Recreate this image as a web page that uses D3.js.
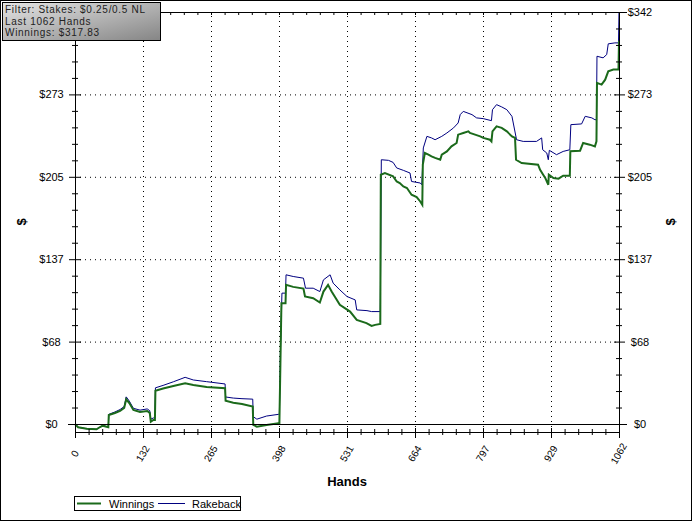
<!DOCTYPE html>
<html><head><meta charset="utf-8">
<script src="https://cdn.jsdelivr.net/npm/d3@7/dist/d3.min.js"></script>
<style>
html,body{margin:0;padding:0;background:#fff;}
svg{display:block;font-family:"Liberation Sans",Arial,sans-serif;}
</style></head>
<body><svg id="chart" width="693" height="522"></svg>
<script>
// ---------- data ----------
const winHands = [0,6,23,42,49,54,65,66,78,88,96,100,106,114,127,141,146,148,153,156,157,172,192,215,231,257,293,294,309,326,347,348,355,374,397,399,401,403,411,412,426,446,449,465,478,485,494,501,517,537,550,569,579,586,596,597,605,621,628,634,641,648,657,667,674,678,679,683,690,696,703,713,716,726,735,745,748,758,768,771,781,791,797,810,813,815,823,833,843,853,859,861,872,904,908,914,918,924,925,934,944,953,966,967,986,992,1005,1015,1018,1019,1028,1035,1041,1051,1061,1062];
const winnings = [0,-2.7,-4.0,-4.4,-2.5,-1.4,-2.7,7.5,9.1,10.8,13.3,20.5,17.4,11.6,10.0,10.8,9.1,1.9,3.3,3.3,27.6,29.5,31.5,33.8,32.4,30.7,29.6,19.3,17.7,16.6,14.4,-0.8,-2.2,-0.8,0.6,0.6,50,100.2,100.2,115.4,113.7,112.3,105.7,104.3,100.7,109.8,115.4,109.8,98.8,93.2,86.3,83.6,81.3,82.2,83.0,206.7,208.1,205.3,201.1,199.8,197,195.7,190.1,188.2,184.5,181.8,215,224.7,223.3,221.9,220.6,219.1,223.3,226,230.2,233,239.9,241.3,242.6,241.3,239.9,238.5,237.2,235.7,234.3,242.6,246.8,245.5,242.6,238.5,237.2,219.1,216.4,215,210.8,206.7,204,198.4,206.7,204,203.4,205.9,205.9,226.2,226.6,233,231.6,230.2,234.3,282.8,281.4,285.5,292.4,293.9,293.9,317.83];

const rbHands = [0,6,23,42,49,54,65,66,78,88,96,100,106,114,127,141,146,148,153,156,157,172,192,215,231,257,293,294,309,326,347,348,355,374,397,399,401,404,411,412,426,446,450,465,478,485,498,504,517,531,547,550,570,579,596,598,612,621,628,641,654,657,674,677,680,687,696,703,716,726,739,748,752,758,775,784,797,813,815,823,833,843,853,862,875,901,911,913,921,924,926,940,953,966,968,989,996,1009,1015,1018,1019,1031,1038,1041,1054,1061,1062];
const rakeback = [0,-2.7,-4.0,-4.4,-2.5,-1.2,-2.5,8,10,12,14.5,22.5,19,13,11.5,12.5,11,4,5,5,30,32,35,38.7,36.5,35.1,33.2,22.4,21.5,21,20.6,6.1,4,6.6,8,8,60,108.5,108.5,123.7,122.3,120.9,112.6,112.6,109.8,119.5,123.7,116.8,111.2,105.7,102.9,94.6,94,93.2,93.2,219.1,218.6,216.9,212.3,210.3,208.1,201.1,199.8,198.4,228.9,238.5,237.2,235.7,238.5,241.3,245.5,249.6,256.5,259.2,256.5,253.8,253.2,251.5,260.6,264.8,262.9,260.6,255.1,235.7,234.3,234.3,237.2,227.4,224.7,219.1,226.9,223.3,226,227.4,248.2,248.8,255.1,253.8,252.3,252.3,304.9,303.6,306.3,315.2,316,316,341.6];

const totalHands = 1062;
const yMax = 341.6;
const xTickLabels = ["0","132","265","398","531","664","797","929","1062"];
const yTickLabels = ["$0","$68","$137","$205","$273","$342"];
const infoLines = ["Filter: Stakes: $0.25/0.5 NL","Last 1062 Hands","Winnings: $317.83"];
const seriesNames = ["Winnings","Rakeback"];
const seriesColors = ["#1b6a1b","#000080"];

// ---------- layout ----------
const svg = d3.select("#chart");
const L = 75, R = 619, T = 12, Z = 424, B = 432;
const x = d3.scaleLinear().domain([0,totalHands]).range([L,R]);
const y = d3.scaleLinear().domain([0,yMax]).range([Z,T]);

const xMajor = d3.range(9).map(i => i*totalHands/8);
const xMinor = d3.range(41).map(i => i*totalHands/40).filter((d,i)=> i%5!==0);
const yMajor = d3.range(6).map(i => i*yMax/5);
const yMinor = d3.range(26).map(i => i*yMax/25).filter((d,i)=> i%5!==0);

// outer frame
svg.append("rect").attr("x",0.5).attr("y",0.5).attr("width",691).attr("height",520)
  .attr("fill","#fff").attr("stroke","#000");

// gridlines
const grid = svg.append("g");
grid.append("g").attr("transform",`translate(0,${B})`)
  .call(d3.axisBottom(x).tickValues(xMajor.slice(1,-1)).tickSize(-(B-T)).tickFormat(""))
  .call(g=>g.select(".domain").remove())
  .selectAll("line").attr("stroke","#000").attr("stroke-dasharray","1,4");
grid.append("g").attr("transform",`translate(${L},0)`)
  .call(d3.axisLeft(y).tickValues(yMajor.slice(1,-1)).tickSize(-(R-L)).tickFormat(""))
  .call(g=>g.select(".domain").remove())
  .selectAll("line").attr("stroke","#000").attr("stroke-dasharray","1,4");

// lines
const lineGen = d3.line().x(d=>x(d[0])).y(d=>y(d[1]));
const rbData = rbHands.map((h,i)=>[h,rakeback[i]]);
const winData = winHands.map((h,i)=>[h,winnings[i]]);
svg.append("path").datum(rbData).attr("d",lineGen).attr("fill","none")
  .attr("stroke",seriesColors[1]).attr("stroke-width",1);
svg.append("path").datum(winData).attr("d",lineGen).attr("fill","none")
  .attr("stroke",seriesColors[0]).attr("stroke-width",2);

// axes helper: ticks that cross the axis line
function crossTicks(g, lo, hi, horiz){
  g.selectAll(".tick line").each(function(){
    const s = d3.select(this);
    if(horiz){ s.attr("y1",lo).attr("y2",hi); } else { s.attr("x1",lo).attr("x2",hi); }
  }).attr("stroke","#000");
  g.select(".domain").remove();
}
// left axis (top label is hidden under the info box in the reference)
svg.append("g").attr("transform",`translate(${L},0)`)
  .call(d3.axisLeft(y).tickValues(yMinor).tickFormat(""))
  .call(g=>crossTicks(g,-3,3,false));
svg.append("g").attr("transform",`translate(${L},0)`)
  .call(d3.axisLeft(y).tickValues(yMajor).tickFormat(""))
  .call(g=>crossTicks(g,-6,6,false));
svg.append("g").attr("transform",`translate(${L},0)`)
  .call(d3.axisLeft(y).tickValues(yMajor.slice(0,-1)).tickSize(0).tickPadding(0).tickFormat((d,i)=>yTickLabels[i]))
  .call(g=>g.select(".domain").remove())
  .selectAll("text").attr("x",51.5-L).attr("text-anchor","middle")
  .attr("font-size",11).attr("fill","#000").attr("font-family","Liberation Sans, Arial, sans-serif");
// right axis
svg.append("g").attr("transform",`translate(${R},0)`)
  .call(d3.axisRight(y).tickValues(yMinor).tickFormat(""))
  .call(g=>crossTicks(g,-3,3,false));
svg.append("g").attr("transform",`translate(${R},0)`)
  .call(d3.axisRight(y).tickValues(yMajor).tickFormat(""))
  .call(g=>crossTicks(g,-5,6,false));
svg.append("g").attr("transform",`translate(${R},0)`)
  .call(d3.axisRight(y).tickValues(yMajor).tickSize(0).tickPadding(0).tickFormat((d,i)=>yTickLabels[i]))
  .call(g=>g.select(".domain").remove())
  .selectAll("text").attr("x",640-R).attr("text-anchor","middle")
  .attr("font-size",11).attr("fill","#000").attr("font-family","Liberation Sans, Arial, sans-serif");
// axis lines
svg.append("line").attr("x1",L+0.5).attr("x2",L+0.5).attr("y1",T).attr("y2",B).attr("stroke","#000");
svg.append("line").attr("x1",R+0.5).attr("x2",R+0.5).attr("y1",T).attr("y2",B).attr("stroke","#000");
svg.append("line").attr("x1",L-7).attr("x2",R+8).attr("y1",y(0)+0.5).attr("y2",y(0)+0.5).attr("stroke","#000");
svg.append("line").attr("x1",L-7).attr("x2",R+8).attr("y1",y(yMax)+0.5).attr("y2",y(yMax)+0.5).attr("stroke","#000");
svg.append("line").attr("x1",L).attr("x2",R+1).attr("y1",B+0.5).attr("y2",B+0.5).attr("stroke","#000");

// bottom axis
svg.append("g").attr("transform",`translate(0,${B})`)
  .call(d3.axisBottom(x).tickValues(xMinor).tickFormat(""))
  .call(g=>crossTicks(g,-3,3,true));
svg.append("g").attr("transform",`translate(0,${B})`)
  .call(d3.axisBottom(x).tickValues(xMajor).tickFormat(""))
  .call(g=>crossTicks(g,-4,6,true));
svg.append("g").attr("transform",`translate(0,${B})`)
  .call(d3.axisBottom(x).tickValues(xMajor).tickSize(0).tickPadding(0).tickFormat((d,i)=>xTickLabels[i]))
  .call(g=>g.select(".domain").remove())
  .selectAll("text").attr("y",0).attr("dy",0)
  .attr("transform","translate(0,22) rotate(-60)")
  .attr("text-anchor","middle").attr("dominant-baseline","middle")
  .attr("font-size",10).attr("fill","#000").attr("font-family","Liberation Sans, Arial, sans-serif");
// top axis ticks
svg.append("g").attr("transform",`translate(0,${T})`)
  .call(d3.axisTop(x).tickValues(xMinor.concat(xMajor)).tickFormat(""))
  .call(g=>crossTicks(g,0,3,true));

// axis titles
svg.append("text").attr("x",347).attr("y",486).attr("text-anchor","middle")
  .attr("font-size",13).attr("font-weight","bold").text("Hands");
svg.append("text").attr("transform","translate(26,222) rotate(-90)").attr("text-anchor","middle")
  .attr("font-size",13).attr("font-weight","bold").text("$");
svg.append("text").attr("transform","translate(675,222) rotate(-90)").attr("text-anchor","middle")
  .attr("font-size",13).attr("font-weight","bold").text("$");

// legend
const lg = svg.append("g");
lg.append("rect").attr("x",74.5).attr("y",496.5).attr("width",166).attr("height",14)
  .attr("fill","#fff").attr("stroke","#000");
const legX = [[77,101,109],[158,185,192]];
seriesNames.forEach((n,i)=>{
  lg.append("line").attr("x1",legX[i][0]).attr("x2",legX[i][1]).attr("y1",503.5).attr("y2",503.5)
    .attr("stroke",seriesColors[i]).attr("stroke-width",i===0?2:1);
  lg.append("text").attr("x",legX[i][2]).attr("y",507.5).attr("font-size",11).text(n);
});

// info box
const defs = svg.append("defs");
const gr = defs.append("linearGradient").attr("id","ibg").attr("x1","0").attr("y1","0").attr("x2","1").attr("y2","1");
gr.append("stop").attr("offset","0").attr("stop-color","#e4e4e4");
gr.append("stop").attr("offset","1").attr("stop-color","#858585");
svg.append("rect").attr("x",2.5).attr("y",2.5).attr("width",158).attr("height",38)
  .attr("fill","url(#ibg)").attr("stroke","#000");
infoLines.forEach((t,i)=>{
  svg.append("text").attr("x",5).attr("y",13+i*11.5).attr("font-size",10)
    .attr("letter-spacing","0.7").attr("fill","#222").text(t);
});
</script></body></html>
